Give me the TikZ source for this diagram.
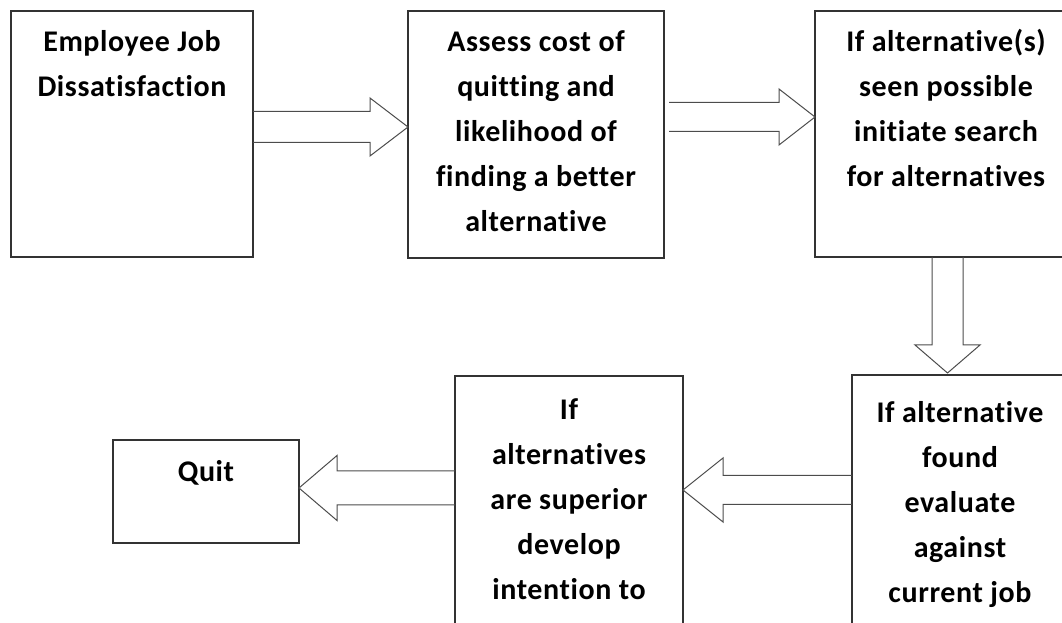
\documentclass[tikz,border=0pt]{standalone}
\usepackage{fontspec}
\setmainfont[Ligatures={NoCommon},LetterSpace=2]{Carlito}
\usetikzlibrary{calc}
\newcommand{\bxt}[4]{\parbox[c][#2][t]{#1}{\centering\rule{0pt}{#3}#4\par}}
\tikzset{
  x=1pt, y=1pt,
  box/.style={draw=black!80, line width=1.2pt, inner sep=0pt, outer sep=0pt,
    font=\bfseries\fontsize{30}{45}\selectfont, text=black},
  blockarrow/.style n args={3}{draw=black!70, line width=1pt, line join=miter,
    to path={let \p1=(\tikztostart), \p2=(\tikztotarget),
      \n1={atan2(\y2-\y1,\x2-\x1)}, \n2={veclen(\x2-\x1,\y2-\y1)} in
      [shift={(\p1)}, rotate=\n1]
      (0,#1) -- (\n2-#3,#1) -- (\n2-#3,#2) -- (\n2,0) -- (\n2-#3,-#2)
      -- (\n2-#3,-#1) -- (0,-#1)}}
}
\begin{document}
\begin{tikzpicture}
\useasboundingbox (0,0) rectangle (1062,623);
\clip (0,0) rectangle (1062,623);
\node[box] (b1) at (132,489) {\bxt{242pt}{246pt}{41pt}{Employee Job\\Dissatisfaction}};
\node[box] (b2) at (536,488.5) {\bxt{256pt}{247pt}{41pt}{Assess cost of\\quitting and\\likelihood of\\finding a better\\alternative}};
\node[box] (b3) at (946,489) {\bxt{262pt}{246pt}{41pt}{If alternative(s)\\seen possible\\initiate search\\for alternatives}};
\node[box] (b4) at (960,115.5) {\bxt{216pt}{265pt}{48pt}{If alternative\\found\\evaluate\\against\\current job}};
\node[box] (b5) at (569,115) {\bxt{228pt}{264pt}{44pt}{If\\alternatives\\are superior\\develop\\intention to}};
\node[box] (q) at (206,131.5) {\bxt{186pt}{103pt}{42pt}{Quit}};
% arrows
\draw[blockarrow={15.5}{29}{38}] (b1.east |- 0,496) to (b2.west |- 0,496);
\draw[blockarrow={14.5}{28}{36}] ([xshift=5pt]b2.east |- 0,506) to (b3.west |- 0,506);
\draw[blockarrow={15.5}{32.5}{28}] (947.5,0 |- b3.south) to (947.5,250);
\draw[blockarrow={14.5}{32}{40}] (b4.west |- 0,133) to (b5.east |- 0,133);
\draw[blockarrow={17}{32.5}{38}] (b5.west |- 0,135) to (q.east |- 0,135);
\end{tikzpicture}
\end{document}
